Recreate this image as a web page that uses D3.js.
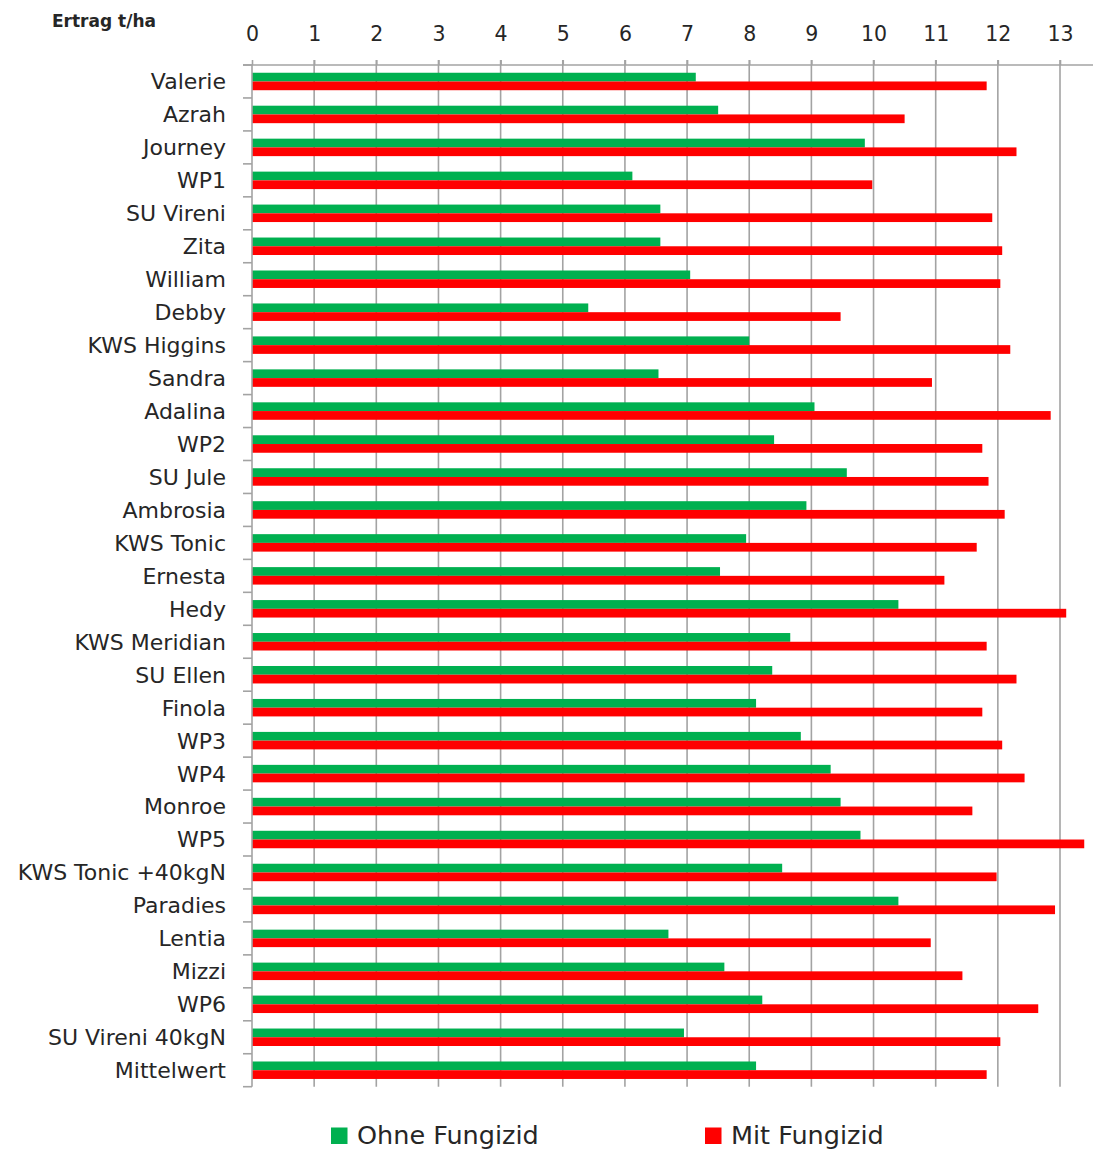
<!DOCTYPE html>
<html>
<head>
<meta charset="utf-8">
<script src="https://cdn.jsdelivr.net/npm/d3@7"></script>
<style>
  html, body { margin: 0; padding: 0; background: #fff; overflow: hidden; }
  svg { display: block; }
  text { font-family: "DejaVu Sans", sans-serif; fill: #262626; }
</style>
</head>
<body>
<svg id="chart" width="1093" height="1151"></svg>
<script>
// ---- data ----
const categories = [
  "Valerie", "Azrah", "Journey", "WP1", "SU Vireni", "Zita", "William", "Debby",
  "KWS Higgins", "Sandra", "Adalina", "WP2", "SU Jule", "Ambrosia", "KWS Tonic",
  "Ernesta", "Hedy", "KWS Meridian", "SU Ellen", "Finola", "WP3", "WP4", "Monroe",
  "WP5", "KWS Tonic +40kgN", "Paradies", "Lentia", "Mizzi", "WP6", "SU Vireni 40kgN",
  "Mittelwert"
];
const ohneFungizid = [
  7.14, 7.50, 9.86, 6.12, 6.57, 6.57, 7.05, 5.41,
  8.00, 6.54, 9.05, 8.40, 9.57, 8.92, 7.95,
  7.53, 10.40, 8.66, 8.37, 8.11, 8.83, 9.31, 9.47,
  9.79, 8.53, 10.40, 6.70, 7.60, 8.21, 6.95,
  8.11
];
const mitFungizid = [
  11.82, 10.50, 12.30, 9.98, 11.91, 12.07, 12.04, 9.47,
  12.20, 10.94, 12.85, 11.75, 11.85, 12.11, 11.66,
  11.14, 13.10, 11.82, 12.30, 11.75, 12.07, 12.43, 11.59,
  13.39, 11.98, 12.92, 10.92, 11.43, 12.65, 12.04,
  11.82
];
const seriesNames = ["Ohne Fungizid", "Mit Fungizid"];
const seriesColors = ["#00b050", "#ff0000"];
const xTickValues = [0, 1, 2, 3, 4, 5, 6, 7, 8, 9, 10, 11, 12, 13];
const axisTitle = "Ertrag t/ha";

// ---- layout ----
const svg = d3.select("#chart");
const plotLeft = 252, plotRight = 1060, plotTop = 65, plotBottom = 1086.7;

const x = d3.scaleLinear().domain([0, 13]).range([plotLeft, plotRight]);
const y = d3.scaleBand().domain(categories).range([plotTop, plotBottom])
  .paddingInner(0.47).paddingOuter(0.235);
const ySub = d3.scaleBand().domain(seriesNames).range([0, y.bandwidth()]);

const rows = categories.map((c, i) => ({ cat: c, vals: [ohneFungizid[i], mitFungizid[i]] }));

// gridlines
svg.append("g").attr("class", "grid")
  .selectAll("line").data(xTickValues.filter(d => d > 0)).join("line")
  .attr("x1", d => x(d)).attr("x2", d => x(d))
  .attr("y1", plotTop - 5).attr("y2", plotBottom)
  .attr("stroke", "#a3a3a3").attr("stroke-width", 1.6);

// bars
const g = svg.append("g").attr("class", "bars");
rows.forEach(r => {
  r.vals.forEach((v, k) => {
    g.append("rect")
      .attr("x", x(0))
      .attr("y", y(r.cat) + ySub(seriesNames[k]))
      .attr("width", x(v) - x(0))
      .attr("height", ySub.bandwidth())
      .attr("fill", seriesColors[k]);
  });
});

// top axis
const xAxis = d3.axisTop(x).tickValues(xTickValues).tickSize(5).tickPadding(19)
  .tickFormat(d3.format("d"));
const ax = svg.append("g").attr("transform", `translate(0,${plotTop})`).call(xAxis);
ax.select(".domain").remove();
ax.selectAll(".tick line").attr("stroke", "#a3a3a3").attr("stroke-width", 1.6);
ax.selectAll(".tick text").style("font-family", "DejaVu Sans").style("font-size", "20.5px")
  .attr("fill", "#262626");
svg.append("line").attr("x1", plotLeft - 9).attr("x2", 1093).attr("y1", plotTop).attr("y2", plotTop)
  .attr("stroke", "#a3a3a3").attr("stroke-width", 1.6);

// left axis
const yAxis = d3.axisLeft(y).tickSize(0).tickPadding(26);
const ay = svg.append("g").attr("transform", `translate(${plotLeft},0)`).call(yAxis);
ay.select(".domain").remove();
ay.selectAll(".tick text").style("font-family", "DejaVu Sans").style("font-size", "22px")
  .attr("fill", "#262626").attr("dy", "0.36em");
svg.append("line").attr("x1", plotLeft).attr("x2", plotLeft).attr("y1", plotTop).attr("y2", plotBottom)
  .attr("stroke", "#a3a3a3").attr("stroke-width", 1.6);
const boundaries = d3.range(categories.length + 1).map(i => plotTop + i * y.step());
svg.append("g").selectAll("line").data(boundaries).join("line")
  .attr("x1", plotLeft - 9).attr("x2", plotLeft).attr("y1", d => d).attr("y2", d => d)
  .attr("stroke", "#a3a3a3").attr("stroke-width", 1.6);

// axis title
svg.append("text").attr("x", 52).attr("y", 27)
  .style("font-size", "17px").style("font-weight", "bold").text(axisTitle);

// legend
const legendX = [331, 705];
const leg = svg.append("g");
seriesNames.forEach((n, k) => {
  leg.append("rect").attr("x", legendX[k]).attr("y", 1127.5).attr("width", 16.5).attr("height", 16.5)
    .attr("fill", seriesColors[k]);
  leg.append("text").attr("x", legendX[k] + 26).attr("y", 1144)
    .style("font-size", "25.5px").text(n);
});
</script>
</body>
</html>
